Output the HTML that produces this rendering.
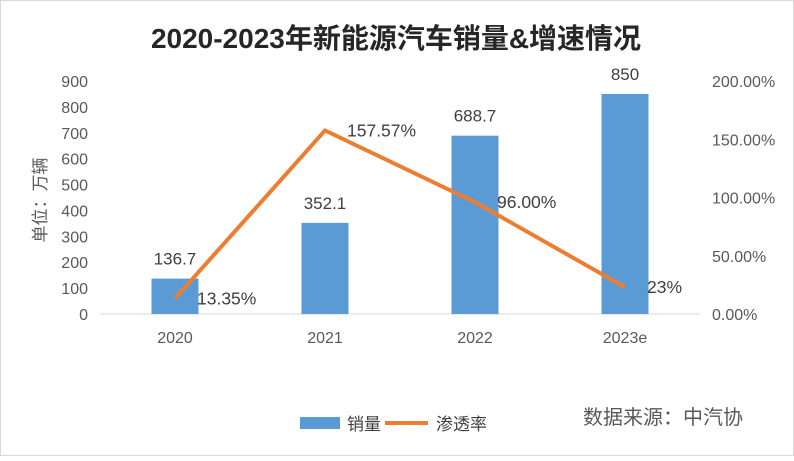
<!DOCTYPE html>
<html><head><meta charset="utf-8"><style>
body{margin:0;background:#fff;}
svg text{font-family:"Liberation Sans","Noto Sans CJK SC",sans-serif;}
</style></head><body>
<svg width="794" height="456" xmlns="http://www.w3.org/2000/svg">
<rect x="0.5" y="0.5" width="793" height="455" fill="#fff" stroke="#d9d9d9"/>
<text x="396" y="48" text-anchor="middle" font-size="28" font-weight="bold" fill="#262626">2020-2023年新能源汽车销量&amp;增速情况</text>
<text transform="translate(46,200) rotate(-90)" text-anchor="middle" font-size="17" fill="#595959">单位：万辆</text>
<g id="plot"></g>
<g>
<rect x="300" y="417" width="40" height="12" fill="#5b9bd5"/>
<text x="347" y="430" font-size="17" fill="#404040">销量</text>
<line x1="385" y1="423" x2="428" y2="423" stroke="#ed7d31" stroke-width="4"/>
<text x="436" y="430" font-size="17" fill="#404040">渗透率</text>
</g>
<text x="583" y="424" font-size="20" fill="#595959">数据来源：中汽协</text>
</svg>
<script>
const categories=["2020","2021","2022","2023e"];
const sales=[136.7,352.1,688.7,850];
const rates=[13.35,157.57,96.00,23];
const rateLabels=["13.35%","157.57%","96.00%","23%"];
const leftTicks=[0,100,200,300,400,500,600,700,800,900];
const rightTicks=[0,50,100,150,200];
const NS="http://www.w3.org/2000/svg";
const g=document.getElementById('plot');
const x0=100,x1=700,yTop=81,yBot=314;
const xC=i=>x0+(x1-x0)/categories.length*(i+0.5);
const yL=v=>yBot-(v/900)*(yBot-yTop);
const yR=v=>yBot-(v/200)*(yBot-yTop);
function mk(t,a,txt){const e=document.createElementNS(NS,t);for(const k in a)e.setAttribute(k,a[k]);if(txt!=null)e.textContent=txt;g.appendChild(e);return e;}
let e=mk('line',{x1:x0,x2:x1,y1:yBot,y2:yBot,stroke:'#d9d9d9'});


leftTicks.forEach(v=>{const t=mk('text',{x:88,y:yL(v)+6,'text-anchor':'end','font-size':16,fill:'#595959'},String(v));

});
rightTicks.forEach(v=>{const t=mk('text',{x:712,y:yR(v)+6,'font-size':16,fill:'#595959'},v.toFixed(2)+'%');

});
categories.forEach((c,i)=>{
const b=mk('rect',{x:xC(i)-23.5,y:yL(sales[i]),width:47,height:yBot-yL(sales[i]),fill:'#5b9bd5'});


const l=mk('text',{x:xC(i),y:yL(sales[i])-14,'text-anchor':'middle','font-size':17,fill:'#404040'},String(sales[i]));


const xl=mk('text',{x:xC(i),y:343,'text-anchor':'middle','font-size':16,fill:'#595959'},c);


});
const pts=rates.map((r,i)=>xC(i)+','+yR(r)).join(' ');
const pl=mk('polyline',{points:pts,fill:'none',stroke:'#ed7d31','stroke-width':4,'stroke-linejoin':'round'});


rates.forEach((r,i)=>{const t=mk('text',{x:xC(i)+22,y:yR(r)+6,'font-size':17.5,fill:'#404040'},rateLabels[i]);

});
</script>
</body></html>
